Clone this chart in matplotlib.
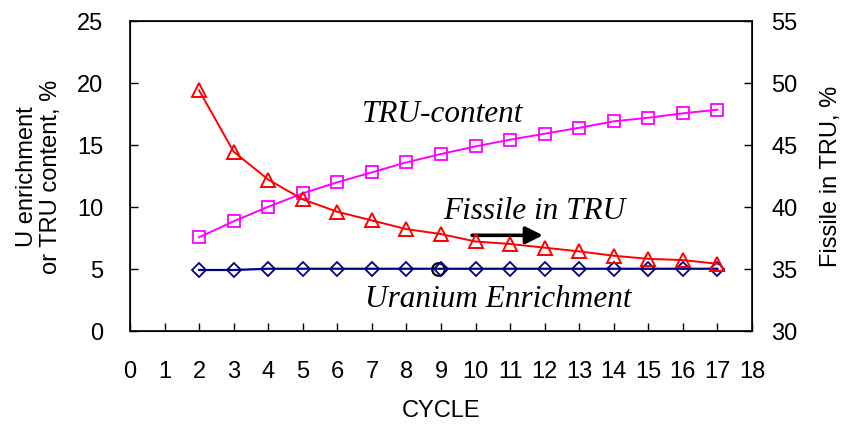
import matplotlib
matplotlib.use('Agg')
from matplotlib import pyplot as plt

plt.rcParams['font.family'] = ['Liberation Sans', 'DejaVu Sans']

cycles = [2, 3, 4, 5, 6, 7, 8, 9, 10, 11, 12, 13, 14, 15, 16, 17]
tru_content = [7.54, 8.83, 10.0, 11.09, 11.98, 12.78, 13.59, 14.26,
               14.88, 15.42, 15.9, 16.38, 16.9, 17.19, 17.55, 17.84]
u_enrich = [4.9, 4.9, 5.0, 5.0, 5.0, 5.0, 5.0, 5.0,
            5.0, 5.0, 5.0, 5.0, 5.0, 5.0, 5.0, 5.0]
fissile = [49.4, 44.45, 42.2, 40.6, 39.6, 38.9, 38.2, 37.8,
           37.2, 37.0, 36.7, 36.4, 36.05, 35.8, 35.7, 35.4]
x_ticks = list(range(0, 19))
left_ticks = [0, 5, 10, 15, 20, 25]
right_ticks = [30, 35, 40, 45, 50, 55]

fig = plt.figure(figsize=(8.44, 4.27), dpi=100)
ax = fig.add_axes([0.154, 0.2232, 0.737, 0.7253])
ax2 = ax.twinx()

ax.set_xlim(0, 18)
ax.set_ylim(0, 25)
ax2.set_ylim(30, 55)

# stray black circle near cycle 9 in the original
ax.plot([8.9], [5.0], marker='o', ls='none', mfc='none', mec='black',
        ms=9, mew=1.6, zorder=2)
ax.plot(cycles, u_enrich, color='#000080', lw=1.6, marker='D', ms=7.5,
        mfc='none', mec='#000080', mew=1.3, zorder=3)
ax.plot(cycles, tru_content, color='#ff00ff', lw=1.4, marker='s', ms=8.5,
        mfc='none', mec='#ff00ff', mew=1.3, zorder=3)
ax2.plot(cycles, fissile, color='red', lw=1.4, marker='^', ms=9.5,
         mfc='none', mec='red', mew=1.4, zorder=3)

ax.set_xticks(x_ticks)
ax.set_yticks(left_ticks)
ax2.set_yticks(right_ticks)
ax.tick_params(axis='both', direction='in', labelsize=17, length=6, width=1)
ax.tick_params(axis='x', pad=21)
ax.tick_params(axis='y', pad=19)
ax2.tick_params(axis='y', direction='in', labelsize=17, length=6, width=1, pad=14)
for s in ax.spines.values():
    s.set_linewidth(1.2)

ax.set_xlabel('CYCLE', fontsize=17, labelpad=12)
ax.set_ylabel('U enrichment\nor TRU content, %', fontsize=17, labelpad=11,
              linespacing=1.1)
ax2.set_ylabel('Fissile in TRU, %', fontsize=17, labelpad=16)

tfont = dict(family=['Liberation Serif', 'DejaVu Serif'], style='italic',
             fontsize=22.5, va='baseline')
ax.text(6.7, 16.9, 'TRU-content', **tfont)
ax.text(9.06, 9.09, 'Fissile in TRU', **tfont)
ax.text(6.8, 2.02, 'Uranium Enrichment', **tfont)
ax.annotate('', xy=(11.95, 7.7), xytext=(9.9, 7.7),
            arrowprops=dict(arrowstyle='-|>', color='black', lw=2.6,
                            mutation_scale=26, shrinkA=0, shrinkB=0))

fig.savefig('out.png', dpi=100)
